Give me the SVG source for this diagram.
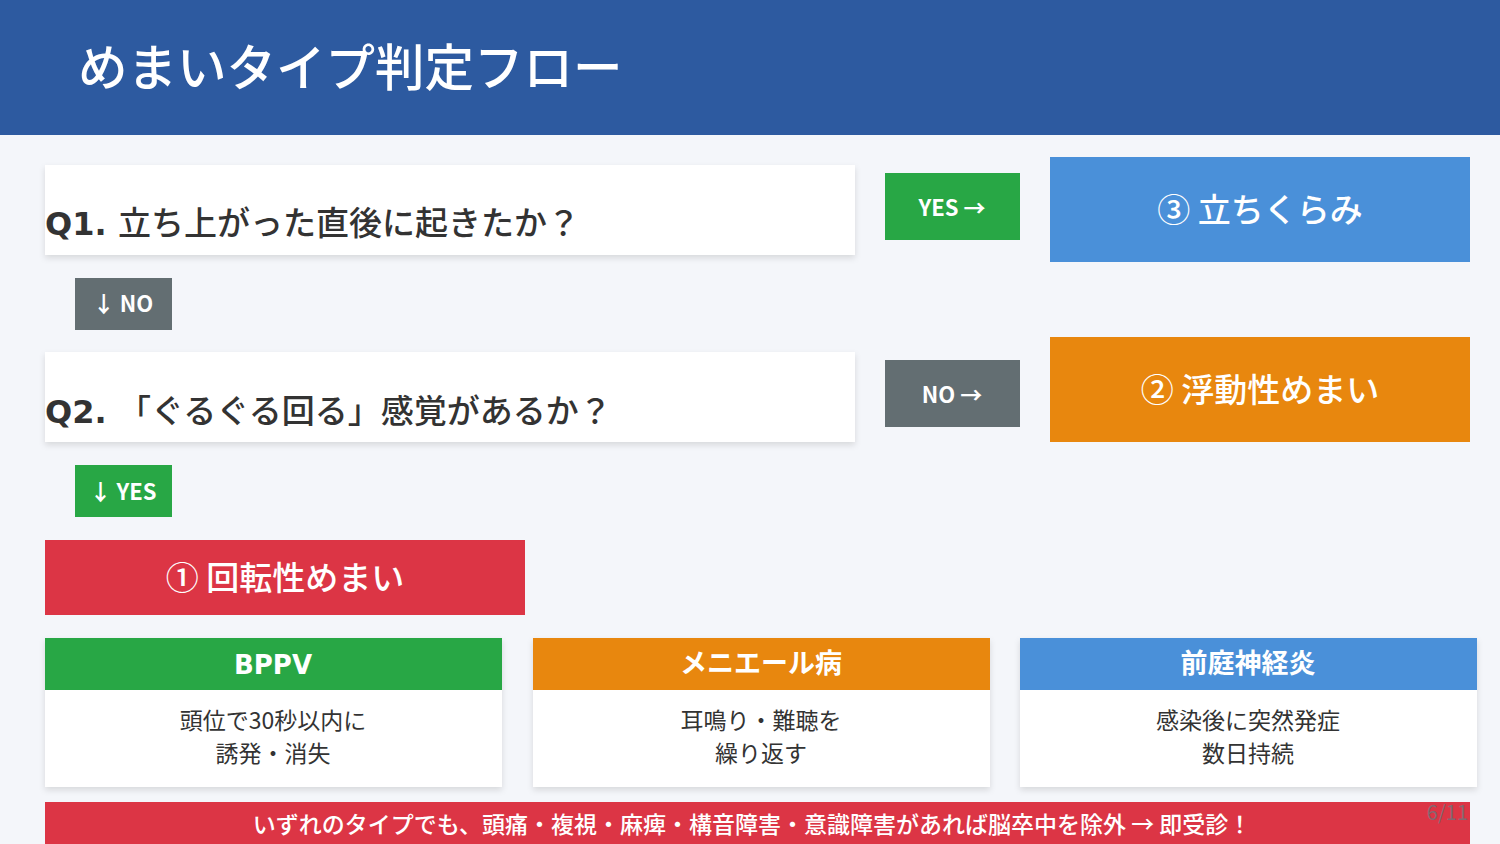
<svg xmlns="http://www.w3.org/2000/svg" width="1500" height="844" viewBox="0 0 1500 844">
<defs>
<filter id="sh" x="-5%" y="-20%" width="110%" height="150%">
<feDropShadow dx="0" dy="3" stdDeviation="3" flood-color="#000" flood-opacity="0.12"/>
</filter>
<style>
text{font-family:"Noto Sans CJK JP","Noto Sans",sans-serif;}
.w{fill:#ffffff;}
.q{fill:#333333;font-size:33px;font-weight:500;}
.ql{font-family:"DejaVu Sans","Noto Sans CJK JP",sans-serif;font-weight:700;font-size:32px;}
.btn{fill:#ffffff;font-size:22px;font-weight:700;text-anchor:middle;}
.res{fill:#ffffff;font-size:33px;font-weight:500;text-anchor:middle;}
.ch{fill:#ffffff;font-size:27px;font-weight:700;text-anchor:middle;}
.chl{font-family:"DejaVu Sans",sans-serif;font-size:26px;}
.cb{fill:#333333;font-size:23px;font-weight:400;text-anchor:middle;}
.green{fill:#28a745;}
.gray{fill:#636e72;}
.blue{fill:#4a90d9;}
.orange{fill:#e8870e;}
.red{fill:#dc3545;}
</style>
</defs>
<rect x="0" y="0" width="1500" height="844" fill="#f4f6fa"/>
<g id="header">
<rect x="0" y="0" width="1500" height="135" fill="#2d5aa0"/>
<text x="78" y="86" class="w" font-size="49.5" font-weight="500">めまいタイプ判定フロー</text>
</g>
<g id="connectors">
<g id="yes1">
<rect x="885" y="173" width="135" height="67" class="green"/>
<text x="952" y="216" class="btn">YES →</text>
</g>
<g id="no1">
<rect x="75" y="278" width="97" height="52" class="gray"/>
<text x="123" y="312" class="btn">↓ NO</text>
</g>
<g id="no2">
<rect x="885" y="360" width="135" height="67" class="gray"/>
<text x="952" y="403" class="btn">NO →</text>
</g>
<g id="yes2">
<rect x="75" y="465" width="97" height="52" class="green"/>
<text x="123" y="500" class="btn">↓ YES</text>
</g>
</g>
<g id="q1">
<rect x="45" y="165" width="810" height="90" fill="#ffffff" filter="url(#sh)"/>
<text x="45" y="235" class="q"><tspan class="ql">Q1.</tspan><tspan x="118">立ち上がった直後に起きたか？</tspan></text>
</g>
<g id="q2">
<rect x="45" y="352" width="810" height="90" fill="#ffffff" filter="url(#sh)"/>
<text x="45" y="423" class="q"><tspan class="ql">Q2.</tspan><tspan x="118">「ぐるぐる回る」感覚があるか？</tspan></text>
</g>
<g id="type3">
<rect x="1050" y="157" width="420" height="105" class="blue"/>
<text x="1260" y="222" class="res">③ 立ちくらみ</text>
</g>
<g id="type2">
<rect x="1050" y="337" width="420" height="105" class="orange"/>
<text x="1260" y="402" class="res">② 浮動性めまい</text>
</g>
<g id="type1">
<rect x="45" y="540" width="480" height="75" class="red"/>
<text x="285" y="590" class="res" font-weight="700">① 回転性めまい</text>
</g>
<g id="card-bppv">
<rect x="45" y="638" width="457" height="149" fill="#ffffff" filter="url(#sh)"/>
<rect x="45" y="638" width="457" height="52" class="green"/>
<text x="273" y="674" class="ch chl">BPPV</text>
<text x="273" y="729" class="cb">頭位で30秒以内に</text>
<text x="273" y="762" class="cb">誘発・消失</text>
</g>
<g id="card-meniere">
<rect x="533" y="638" width="457" height="149" fill="#ffffff" filter="url(#sh)"/>
<rect x="533" y="638" width="457" height="52" class="orange"/>
<text x="761" y="673" class="ch">メニエール病</text>
<text x="761" y="729" class="cb">耳鳴り・難聴を</text>
<text x="761" y="762" class="cb">繰り返す</text>
</g>
<g id="card-vn">
<rect x="1020" y="638" width="457" height="149" fill="#ffffff" filter="url(#sh)"/>
<rect x="1020" y="638" width="457" height="52" class="blue"/>
<text x="1248" y="673" class="ch">前庭神経炎</text>
<text x="1248" y="729" class="cb">感染後に突然発症</text>
<text x="1248" y="762" class="cb">数日持続</text>
</g>
<g id="warning">
<rect x="45" y="802" width="1425" height="50" class="red"/>
<text x="752" y="833" class="w" font-size="23" font-weight="500" text-anchor="middle">いずれのタイプでも、頭痛・複視・麻痺・構音障害・意識障害があれば脳卒中を除外 → 即受診！</text>
</g>
<text x="1468" y="820" fill="#6c757d" fill-opacity="0.8" font-size="20" text-anchor="end">6/11</text>
</svg>
